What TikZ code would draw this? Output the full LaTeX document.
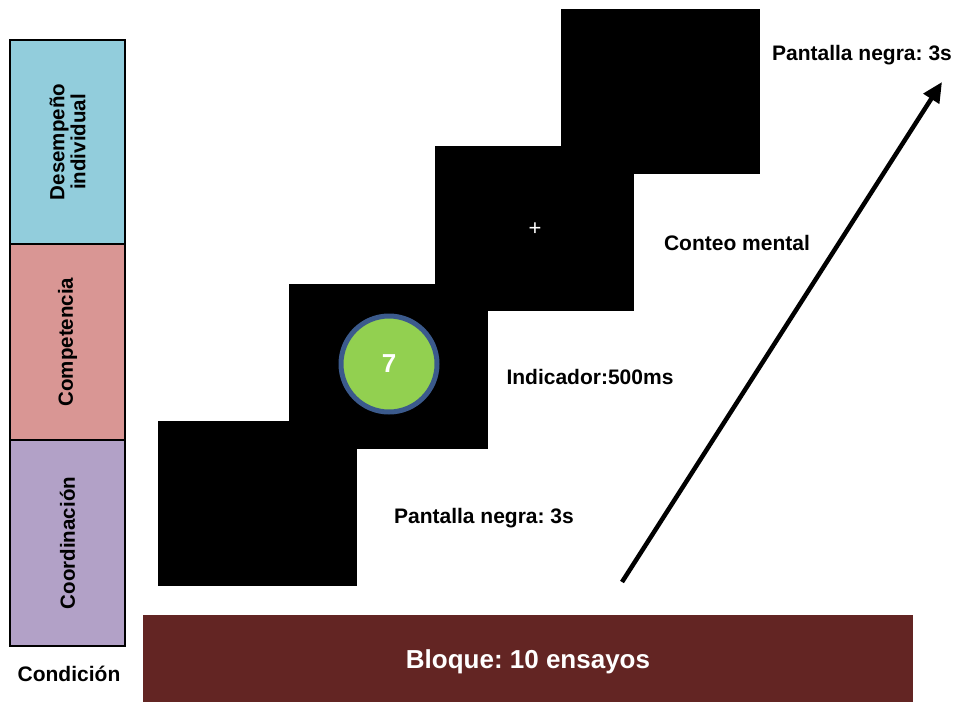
\documentclass[tikz,border=0pt]{standalone}
\usepackage{fontspec}
\setmainfont{Liberation Sans}
\usetikzlibrary{arrows.meta}
\definecolor{cblue}{HTML}{92CDDC}
\definecolor{cred}{HTML}{D99694}
\definecolor{cpurple}{HTML}{B2A1C7}
\definecolor{cbar}{HTML}{632523}
\definecolor{cgreen}{HTML}{92D050}
\definecolor{cring}{HTML}{3B5A8C}
\tikzset{
  condbox/.style={draw=black, line width=2pt, minimum width=115pt, inner sep=0pt},
  condlabel/.style={font=\bfseries\fontsize{20.5}{21}\selectfont, rotate=90, align=center},
  screen/.style={fill=black, draw=none, minimum width=199pt, minimum height=165pt, inner sep=0pt},
  lbl/.style={font=\bfseries\fontsize{21}{23}\selectfont, inner sep=0pt},
}
\begin{document}
\frenchspacing
\begin{tikzpicture}[x=1pt, y=-1pt]
\useasboundingbox (0,0) rectangle (956,702);
% condition column
\node[condbox, fill=cblue, minimum height=204pt] (c1) at (67.5,142) {};
\node[condbox, fill=cred, minimum height=196pt] (c2) at (67.5,342) {};
\node[condbox, fill=cpurple, minimum height=206pt] (c3) at (67.5,543) {};
\node[condlabel] at (c1) {Desempeño\\individual};
\node[condlabel] at (c2) {Competencia};
\node[condlabel] at (c3) {Coordinación};
\node[lbl] (cond) at (69,674) {Condición};
% bottom bar
\fill[cbar] (143,615) rectangle (913,702);
\node[font=\bfseries\fontsize{26}{28}\selectfont, text=white] (bar) at (528,662) {Bloque: 10 ensayos};
% screens
\node[screen] (s1) at (257.5,503.5) {};
\node[screen] (s2) at (388.5,366.5) {};
\node[screen] (s3) at (534.5,228.5) {};
\node[screen] (s4) at (660.5,91.5) {};
% indicator
\node[circle, fill=cgreen, draw=cring, line width=5pt, minimum size=96pt, inner sep=0pt,
  font=\bfseries\fontsize{26}{28}\selectfont, text=white] (ind) at (389,364) {7};
% fixation
\node[text=white, font=\fontsize{22}{22}\selectfont, inner sep=0pt] (fix) at (535,229) {+};
% labels
\node[lbl] (l1) at (484,518) {Pantalla negra: 3s};
\node[lbl] (l2) at (590,377) {Indicador:500ms};
\node[lbl] (l3) at (737,243) {Conteo mental};
\node[lbl] (l4) at (862,55) {Pantalla negra: 3s};
% arrow
\coordinate (a0) at (622,582);
\coordinate (a1) at (942,82);
\draw[line width=4.5pt, -{Triangle[length=20pt, width=18pt]}] (a0) -- (a1);
\end{tikzpicture}
\end{document}
